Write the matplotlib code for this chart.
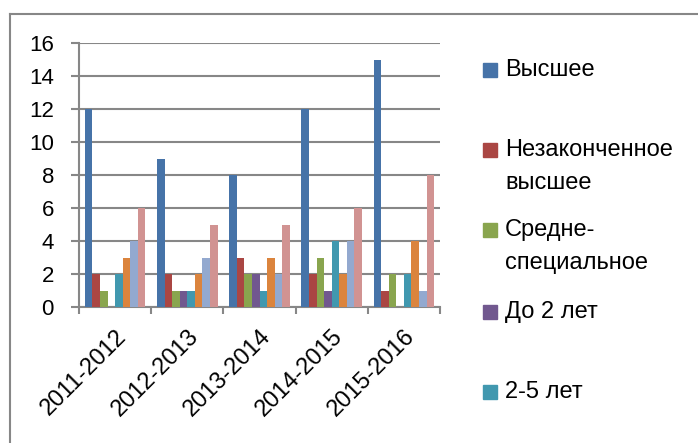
import numpy as np
import matplotlib
matplotlib.use("Agg")
import matplotlib.pyplot as plt
from matplotlib.lines import Line2D
from matplotlib.patches import Rectangle

W, H = 698, 443

years = ["2011-2012", "2012-2013", "2013-2014", "2014-2015", "2015-2016"]

# values per series (8 series, only the first 5 are visible in the legend)
vysshee       = [12, 9, 8, 12, 15]
nezakonch     = [2, 2, 3, 2, 1]
sredne_spec   = [1, 1, 2, 3, 2]
do_2_let      = [0, 1, 2, 1, 0]
ot_2_do_5     = [2, 1, 1, 4, 2]
series_6      = [3, 2, 3, 2, 4]
series_7      = [4, 3, 2, 4, 1]
series_8      = [6, 5, 5, 6, 8]

legend_labels = ["Высшее", "Незаконченное\nвысшее", "Средне-\nспециальное",
                 "До 2 лет", "2-5 лет"]

colors = ["#4673A8", "#AA4643", "#89A54E", "#71588F", "#4198AF",
          "#DB843D", "#93A9CF", "#D19392"]

series = [vysshee, nezakonch, sredne_spec, do_2_let, ot_2_do_5,
          series_6, series_7, series_8]

plt.rcParams["font.family"] = ["Liberation Sans", "DejaVu Sans"]
grey = "#878787"

fig = plt.figure(figsize=(W / 100, H / 100), dpi=100)
ax = fig.add_axes([79 / W, 1 - 307 / H, (440 - 79) / W, (307 - 43) / H])

x = np.arange(len(years))
n = len(series)
bw = 0.84 / n
for i, (vals, c) in enumerate(zip(series, colors)):
    ax.bar(x - 0.42 + bw * (i + 0.5), vals, width=bw, color=c,
           edgecolor="none", zorder=3)

ax.set_xlim(-0.5, len(years) - 0.5)
ax.set_ylim(0, 16)
ax.set_yticks(range(0, 17, 2))
ax.grid(axis="y", color=grey, linewidth=1.5, zorder=0)

for s in ["top", "right"]:
    ax.spines[s].set_visible(False)
for s in ["left", "bottom"]:
    ax.spines[s].set_color(grey)
    ax.spines[s].set_linewidth(1.5)

ax.tick_params(axis="y", length=6, width=1.5, color=grey, pad=12,
               labelsize=16)
ax.set_xticks(np.arange(-0.5, len(years)), labels=[""] * (len(years) + 1))
ax.tick_params(axis="x", which="major", length=5, width=1.5, color=grey)
ax.set_xticks(x, minor=True)
ax.set_xticklabels(years, minor=True, rotation=45, ha="right", va="top",
                   rotation_mode="anchor", fontsize=17)
ax.tick_params(axis="x", which="minor", length=0, pad=13)

# chart border (partially visible)
fig.add_artist(Line2D([9.5 / W, 1.0], [1 - 13.5 / H, 1 - 13.5 / H],
                      color=grey, linewidth=1.5))
fig.add_artist(Line2D([9.5 / W, 9.5 / W], [1 - 13.5 / H, 0],
                      color=grey, linewidth=1.5))

# legend drawn by hand, Excel-style spacing
legend_y = [70, 150, 230, 312, 392]
for lab, yy, c in zip(legend_labels, legend_y, colors):
    fig.add_artist(Rectangle((483 / W, 1 - (yy + 7) / H), 14 / W, 14 / H,
                             transform=fig.transFigure, color=c))
    for k, line in enumerate(lab.split("\n")):
        fig.text(505 / W, 1 - (yy + 33 * k) / H, line, fontsize=17,
                 va="center", ha="left")

fig.savefig("out.png", dpi=100)
